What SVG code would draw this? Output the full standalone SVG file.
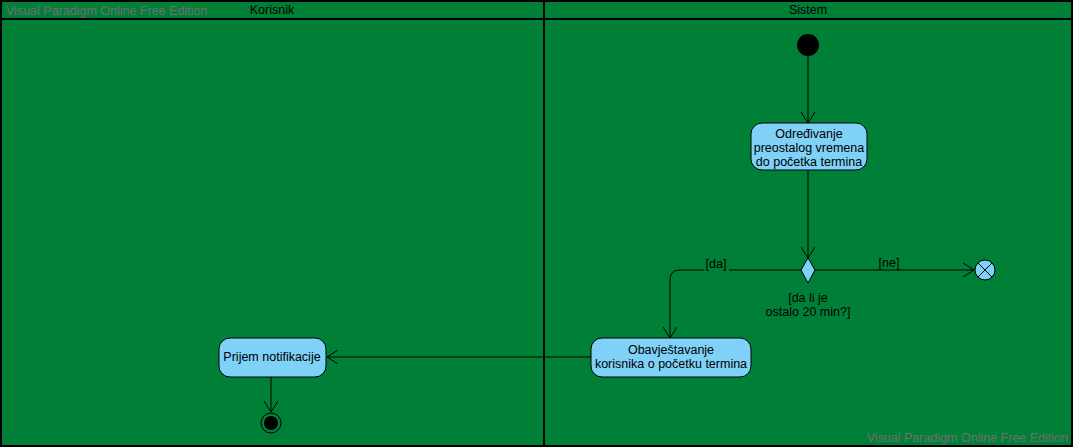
<svg xmlns="http://www.w3.org/2000/svg" width="1074" height="448" viewBox="0 0 1074 448">
<style>
text{font-family:"Liberation Sans",Arial,sans-serif;font-size:12.5px;fill:#000}
.wm{fill:#6f6f6f}
.lane{fill:#008037;stroke:#000;stroke-width:2}
.act{fill:#7fd1f7;stroke:#000;stroke-width:1}
.c{fill:none;stroke:#000;stroke-width:1}
</style>
<defs>
<marker id="arr" viewBox="0 0 12 14" refX="11" refY="7" markerWidth="12" markerHeight="14" markerUnits="userSpaceOnUse" orient="auto">
<path d="M0,0 L11,7 L0,14" fill="none" stroke="#000" stroke-width="1"/>
</marker>
</defs>
<g id="swimlanes">
<rect x="1" y="1" width="543" height="445" class="lane"/>
<rect x="544" y="1" width="528" height="445" class="lane"/>
<line x1="1" y1="19" x2="1072" y2="19" stroke="#000" stroke-width="2"/>
<text x="272" y="14" text-anchor="middle">Korisnik</text>
<text x="808" y="14" text-anchor="middle">Sistem</text>
</g>
<text class="wm" x="6" y="15">Visual Paradigm Online Free Edition</text>
<text class="wm" x="1068" y="442" text-anchor="end">Visual Paradigm Online Free Edition</text>
<g id="connectors">
<path class="c" d="M808,56 V123" marker-end="url(#arr)"/>
<path class="c" d="M808,170 V258" marker-end="url(#arr)"/>
<path class="c" d="M801,270 H729 M704,270 H680 Q670,270 670,280 V338" marker-end="url(#arr)"/>
<path class="c" d="M815,270 H974" marker-end="url(#arr)"/>
<path class="c" d="M591,357 H327" marker-end="url(#arr)"/>
<path class="c" d="M271,377 V412" marker-end="url(#arr)"/>
<text x="716" y="268" text-anchor="middle">[da]</text>
<text x="889" y="267" text-anchor="middle">[ne]</text>
</g>
<g id="initial"><circle cx="808" cy="45" r="11" fill="#000"/></g>
<g id="odredjivanje">
<rect x="751" y="123" width="116" height="47" rx="11" class="act"/>
<text x="809" y="138" text-anchor="middle">Određivanje</text>
<text x="809" y="152" text-anchor="middle">preostalog vremena</text>
<text x="809" y="166" text-anchor="middle">do početka termina</text>
</g>
<g id="decision">
<polygon points="808,258 815,270 808,283 801,270" class="act"/>
<text x="808" y="302" text-anchor="middle">[da li je</text>
<text x="808" y="316" text-anchor="middle">ostalo 20 min?]</text>
</g>
<g id="flowfinal">
<circle cx="985" cy="270" r="10" class="act"/>
<path d="M978,263 L992,277 M992,263 L978,277" class="c"/>
</g>
<g id="obavjestavanje">
<rect x="591" y="338" width="160" height="39" rx="11" class="act"/>
<text x="671" y="354" text-anchor="middle">Obavještavanje</text>
<text x="671" y="368" text-anchor="middle">korisnika o početku termina</text>
</g>
<g id="prijem">
<rect x="219" y="338" width="107" height="39" rx="11" class="act"/>
<text x="272" y="361" text-anchor="middle">Prijem notifikacije</text>
</g>
<g id="final">
<circle cx="271" cy="423" r="10" fill="none" stroke="#000" stroke-width="1"/>
<circle cx="271" cy="423" r="7" fill="#000"/>
</g>
</svg>
